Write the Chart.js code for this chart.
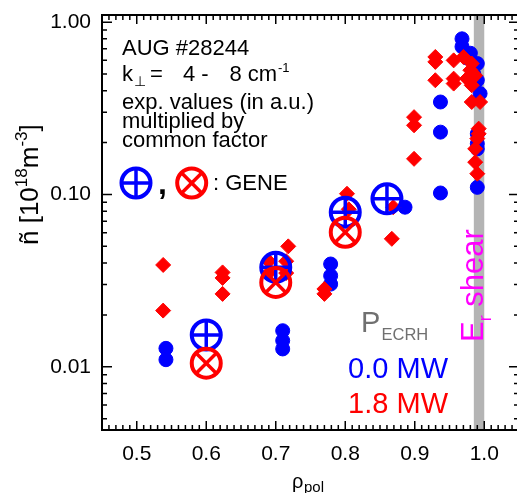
<!DOCTYPE html>
<html>
<head>
<meta charset="utf-8">
<script src="https://cdn.jsdelivr.net/npm/chart.js@4.4.1/dist/chart.umd.min.js"></script>
<style>
  html, body { margin: 0; padding: 0; background: #fff; overflow: hidden; }
  #chart { display: block; }
</style>
</head>
<body>
<canvas id="chart" width="519" height="493" style="width:519px;height:493px"></canvas>
<script>
(function () {
    "use strict";

    // measured points, 0.0 MW (blue circles)
    var blueRho = [0.542, 0.542, 0.71, 0.71, 0.71, 0.779, 0.779, 0.779, 0.886,
        0.937, 0.937, 0.937, 0.968, 0.968, 0.980, 0.975, 0.985, 0.990, 0.990, 0.994,
        0.990, 0.990, 0.990, 0.990];
    var blueN = [0.0128, 0.0110, 0.0162, 0.0142, 0.0127, 0.0395, 0.0338, 0.0302, 0.0844,
        0.344, 0.230, 0.102, 0.80, 0.72, 0.66, 0.62, 0.50, 0.575, 0.46, 0.385,
        0.225, 0.197, 0.184, 0.110];

    // measured points, 1.8 MW (red diamonds)
    var redRho = [0.538, 0.538, 0.6235, 0.6235, 0.6235, 0.69, 0.69, 0.718, 0.715, 0.715,
        0.770, 0.770, 0.8025, 0.805, 0.869, 0.867, 0.899, 0.899, 0.899,
        0.9296, 0.9296, 0.9296, 0.956, 0.956, 0.956,
        0.970, 0.982, 0.980, 0.975, 0.982, 0.987, 0.982, 0.994,
        0.992, 0.992, 0.990, 0.987, 0.987, 0.990];
    var redN = [0.039, 0.0212, 0.0353, 0.0328, 0.0265, 0.041, 0.035, 0.050, 0.041, 0.035,
        0.0283, 0.0265, 0.101, 0.082, 0.0844, 0.0553, 0.281, 0.252, 0.161,
        0.628, 0.588, 0.460, 0.600, 0.470, 0.440,
        0.628, 0.575, 0.526, 0.470, 0.430, 0.490, 0.344, 0.344,
        0.241, 0.225, 0.211, 0.184, 0.154, 0.132];

    // GENE results
    var geneBlueRho = [0.6, 0.7, 0.8, 0.86];
    var geneBlueN = [0.0153, 0.0378, 0.0789, 0.0944];
    var geneRedRho = [0.6, 0.7, 0.8];
    var geneRedN = [0.0105, 0.0309, 0.0604];

    var xTicks = [0.5, 0.6, 0.7, 0.8, 0.9, 1.0];
    var yTicks = [0.01, 0.1, 1];
    var shearBand = [0.985, 1.0];

    var FONT = "'Liberation Sans', Arial, Helvetica, sans-serif";
    Chart.defaults.font.family = FONT;

    function pts(xs, ys) {
        return xs.map(function (x, i) { return { x: x, y: ys[i] }; });
    }

    function put(ctx, s, x, y, size, color, align, weight) {
        ctx.font = (weight || "") + " " + size + "px " + FONT;
        ctx.fillStyle = color;
        ctx.textAlign = align || "left";
        ctx.textBaseline = "alphabetic";
        ctx.fillText(s, x, y);
    }

    // pieces [text, size, dy] drawn one after another
    function rich(ctx, parts, x, y, color) {
        var cx = x;
        parts.forEach(function (p) {
            ctx.font = p[1] + "px " + FONT;
            ctx.fillStyle = color;
            ctx.textAlign = "left";
            ctx.textBaseline = "alphabetic";
            ctx.fillText(p[0], cx, y + (p[2] || 0));
            cx += ctx.measureText(p[0]).width;
        });
    }

    function oplus(ctx, x, y, r, color, rot) {
        ctx.save();
        ctx.strokeStyle = color;
        ctx.lineWidth = 4;
        ctx.beginPath();
        ctx.arc(x, y, r, 0, Math.PI * 2);
        ctx.stroke();
        ctx.lineWidth = 3.5;
        ctx.translate(x, y);
        ctx.rotate(rot);
        ctx.beginPath();
        ctx.moveTo(-r, 0); ctx.lineTo(r, 0);
        ctx.moveTo(0, -r); ctx.lineTo(0, r);
        ctx.stroke();
        ctx.restore();
    }

    function noPad(s) {
        s.paddingTop = 0; s.paddingBottom = 0;
        s.paddingLeft = 0; s.paddingRight = 0;
    }

    // grey E_r shear band behind the points
    var bandPlugin = {
        id: "band",
        beforeDatasetsDraw: function (chart) {
            var ctx = chart.ctx, a = chart.chartArea, xs = chart.scales.x;
            var x0 = xs.getPixelForValue(shearBand[0]), x1 = xs.getPixelForValue(shearBand[1]);
            ctx.save();
            ctx.fillStyle = "#b4b4b4";
            ctx.fillRect(x0, a.top, x1 - x0, a.bottom - a.top);
            ctx.restore();
        }
    };

    // box, inward ticks and all the annotation text
    var framePlugin = {
        id: "frame",
        afterDraw: function (chart) {
            var ctx = chart.ctx, a = chart.chartArea;
            var xs = chart.scales.x, ys = chart.scales.y;
            var i, v, px, len;
            ctx.save();
            ctx.strokeStyle = "#000";
            ctx.lineWidth = 2;
            ctx.strokeRect(a.left, a.top, a.right - a.left, a.bottom - a.top);

            ctx.lineWidth = 1.5;
            ctx.beginPath();
            for (i = 46; i <= 104; i++) {
                v = i / 100;
                px = xs.getPixelForValue(v);
                len = (i % 10 === 0) ? 9 : 5;
                ctx.moveTo(px, a.bottom); ctx.lineTo(px, a.bottom - len);
                ctx.moveTo(px, a.top); ctx.lineTo(px, a.top + len);
            }
            [0.001, 0.01, 0.1, 1].forEach(function (d) {
                for (var k = 1; k <= 9; k++) {
                    var val = k * d;
                    if (val < ys.min || val > ys.max) continue;
                    var py = ys.getPixelForValue(val);
                    var l = (k === 1) ? 10 : 5;
                    ctx.moveTo(a.left, py); ctx.lineTo(a.left + l, py);
                    ctx.moveTo(a.right, py); ctx.lineTo(a.right - l, py);
                }
            });
            ctx.stroke();

            // axis titles
            ctx.save();
            ctx.translate(38, 245);
            ctx.rotate(-Math.PI / 2);
            rich(ctx, [["\u00f1 [10", 26], ["18", 17, -11], ["m", 26], ["-3", 17, -11], ["]", 26]], 0, 0, "#000");
            ctx.restore();
            put(ctx, "\u03c1", 292, 488, 20, "#000");
            put(ctx, "pol", 304, 492, 15, "#000");

            // top-left notes
            put(ctx, "AUG #28244", 122, 55, 22, "#000");
            put(ctx, "k", 122, 81, 22, "#000");
            put(ctx, "\u22a5", 134, 86, 14, "#000");
            put(ctx, "=", 150, 81, 22, "#000");
            put(ctx, "4 -", 183, 81, 22, "#000");
            put(ctx, "8 cm", 229.5, 81, 22, "#000");
            put(ctx, "-1", 278, 72, 13, "#000");
            put(ctx, "exp. values (in a.u.)", 122, 109, 22, "#000");
            put(ctx, "multiplied by", 122, 128, 22, "#000");
            put(ctx, "common factor", 122, 147, 22, "#000");

            oplus(ctx, 136, 183, 14.5, "#0000ff", 0);
            put(ctx, ",", 158, 194, 32, "#000", "left", "bold");
            oplus(ctx, 191.7, 183, 14.5, "#ff0000", Math.PI / 4);
            put(ctx, ": GENE", 213, 190, 22, "#000");

            // power legend
            put(ctx, "P", 361, 332, 29, "#707070");
            put(ctx, "ECRH", 381.5, 340, 16.5, "#707070");
            put(ctx, "0.0 MW", 448, 378, 29, "#0000ff", "right");
            put(ctx, "1.8 MW", 448, 413, 29, "#ff0000", "right");

            // E_r shear
            ctx.save();
            ctx.translate(483, 342);
            ctx.rotate(-Math.PI / 2);
            rich(ctx, [["E", 31], ["r", 18, 8], [" shear", 31]], 0, 0, "#ff00ff");
            ctx.restore();
            ctx.restore();
        }
    };

    var ctx = document.getElementById("chart").getContext("2d");
    var myChart = new Chart(ctx, {
        type: "scatter",
        data: {
            datasets: [{
                    label: "GENE 1.8 MW",
                    data: pts(geneRedRho, geneRedN),
                    pointStyle: "circle",
                    radius: 14.5,
                    borderWidth: 4,
                    borderColor: "#ff0000",
                    backgroundColor: "rgba(0,0,0,0)"
                },
                {
                    label: "GENE 1.8 MW x",
                    data: pts(geneRedRho, geneRedN),
                    pointStyle: "crossRot",
                    radius: 14.5,
                    borderWidth: 3.5,
                    borderColor: "#ff0000"
                },
                {
                    label: "GENE 0.0 MW",
                    data: pts(geneBlueRho, geneBlueN),
                    pointStyle: "circle",
                    radius: 14.5,
                    borderWidth: 4,
                    borderColor: "#0000ff",
                    backgroundColor: "rgba(0,0,0,0)"
                },
                {
                    label: "GENE 0.0 MW +",
                    data: pts(geneBlueRho, geneBlueN),
                    pointStyle: "cross",
                    radius: 14.5,
                    borderWidth: 3.5,
                    borderColor: "#0000ff"
                },
                {
                    label: "1.8 MW",
                    data: pts(redRho, redN),
                    pointStyle: "rectRot",
                    radius: 7.5,
                    borderWidth: 1,
                    borderColor: "#ff0000",
                    backgroundColor: "#ff0000"
                },
                {
                    label: "0.0 MW",
                    data: pts(blueRho, blueN),
                    pointStyle: "circle",
                    radius: 7,
                    borderWidth: 1,
                    borderColor: "#0000ff",
                    backgroundColor: "#0000ff"
                }
            ]
        },
        options: {
            responsive: false,
            animation: false,
            events: [],
            devicePixelRatio: 1,
            layout: { autoPadding: false, padding: { top: 15, right: 0, left: 0, bottom: 0 } },
            plugins: { legend: { display: false }, tooltip: { enabled: false } },
            scales: {
                x: {
                    type: "linear",
                    min: 0.45,
                    max: 1.05,
                    grid: { display: false, drawTicks: false },
                    border: { display: false },
                    afterBuildTicks: function (s) { s.ticks = xTicks.map(function (v) { return { value: v }; }); },
                    afterFit: function (s) { s.height = 63; noPad(s); },
                    ticks: {
                        color: "#000",
                        padding: 12,
                        maxRotation: 0,
                        font: { size: 21 },
                        callback: function (v) { return Number(v).toFixed(1); }
                    }
                },
                y: {
                    type: "logarithmic",
                    min: 0.0043,
                    max: 1.1,
                    grid: { display: false, drawTicks: false },
                    border: { display: false },
                    afterBuildTicks: function (s) { s.ticks = yTicks.map(function (v) { return { value: v }; }); },
                    afterFit: function (s) { s.width = 102; noPad(s); },
                    ticks: {
                        color: "#000",
                        padding: 11,
                        font: { size: 21 },
                        callback: function (v) { return Number(v).toFixed(2); }
                    }
                }
            }
        },
        plugins: [bandPlugin, framePlugin]
    });
})();
</script>
</body>
</html>
